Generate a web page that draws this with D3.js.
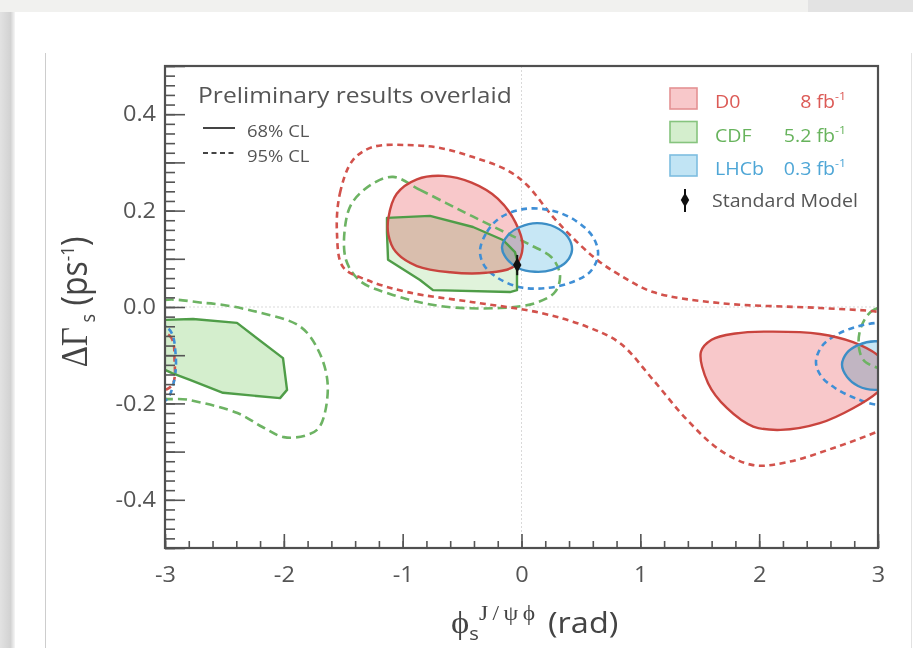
<!DOCTYPE html>
<html>
<head>
<meta charset="utf-8">
<script src="https://cdn.jsdelivr.net/npm/d3@7"></script>
<style>
  html, body { margin: 0; padding: 0; background: #fff; }
  svg { display: block; font-family: "Open Sans", "Noto Sans", sans-serif; }
  .fill { mix-blend-mode: multiply; }
</style>
</head>
<body>
<svg id="chart" width="913" height="648"></svg>
<script>
// ---------------- data ----------------
const phiDomain = [-3, 3];          // φs (rad)
const dGammaDomain = [-0.5, 0.5];   // ΔΓs (ps^-1)
const xTickValues = [-3, -2, -1, 0, 1, 2, 3];
const xTickLabels = ["-3", "-2", "-1", "0", "1", "2", "3"];
const yTickValues = [-0.4, -0.2, 0, 0.2, 0.4];
const yTickLabels = ["-0.4", "-0.2", "0.0", "0.2", "0.4"];

// D0, 8 fb^-1 : [φs, ΔΓs]
const d0_68_a = [[-1.12,0.185],[-1.05,0.235],[-0.88,0.265],[-0.66,0.272],[-0.42,0.258],[-0.2,0.225],
  [-0.05,0.175],[0.01,0.125],[-0.06,0.085],[-0.3,0.071],[-0.6,0.072],[-0.88,0.085],[-1.06,0.115],[-1.12,0.15]];
const d0_68_b = [[1.51,-0.093],[1.6,-0.068],[1.8,-0.055],[2.09,-0.051],[2.51,-0.056],[2.79,-0.073],
  [3.0,-0.1],[3.14,-0.135],[3.0,-0.176],[2.79,-0.21],[2.51,-0.241],[2.18,-0.255],[1.95,-0.248],[1.73,-0.21],[1.57,-0.158]];
const d0_95 = [[-1.553,0.154],[-1.527,0.237],[-1.418,0.305],[-1.25,0.332],[-0.963,0.336],[-0.686,0.33],
  [-0.408,0.311],[-0.122,0.284],[0.046,0.253],[0.265,0.187],[0.492,0.129],[0.661,0.093],[0.829,0.066],
  [1.107,0.031],[1.671,0.008],[2.512,-0.002],[3.0,-0.01],[3.2,-0.02],[3.26,-0.13],[3.2,-0.235],[3.0,-0.258],
  [2.655,-0.29],[2.234,-0.322],[1.948,-0.328],[1.671,-0.297],[1.393,-0.234],[1.107,-0.151],[0.829,-0.075],
  [0.551,-0.041],[0.156,-0.012],[-0.408,0.01],[-0.963,0.031],[-1.3,0.056],[-1.502,0.083]];
const d0_95_wrap = [[-3.3,-0.05],[-2.96,-0.06],[-2.92,-0.11],[-2.95,-0.165],[-3.3,-0.175]];

// CDF, 5.2 fb^-1
const cdf_68_a = [[-1.132,0.185],[-0.77,0.189],[-0.408,0.166],[-0.156,0.139],[-0.055,0.114],[-0.038,0.098],
  [-0.038,0.035],[-0.097,0.031],[-0.745,0.035],[-0.854,0.056],[-1.123,0.098],[-1.132,0.154]];
const cdf_68_b = [[-3.05,-0.027],[-2.764,-0.025],[-2.394,-0.033],[-2.007,-0.106],[-1.973,-0.172],
  [-2.032,-0.189],[-2.512,-0.178],[-2.79,-0.151],[-2.941,-0.137],[-3.05,-0.125]];
const cdf_95_a = [[-1.081,0.27],[-0.854,0.243],[-0.517,0.201],[-0.181,0.16],[0.072,0.129],[0.257,0.102],
  [0.324,0.066],[0.282,0.031],[0.114,0.008],[-0.181,-0.002],[-0.686,0.002],[-1.107,0.027],[-1.359,0.054],
  [-1.477,0.098],[-1.485,0.166],[-1.426,0.216],[-1.258,0.255]];
const cdf_95_b = [[-3.1,0.004],[-2.65,0.008],[-2.23,-0.01],[-1.86,-0.041],[-1.7,-0.095],[-1.63,-0.166],
  [-1.7,-0.249],[-1.81,-0.266],[-2.0,-0.27],[-2.18,-0.249],[-2.39,-0.22],[-2.79,-0.193],[-3.1,-0.18]];
const cdf_95_wrap = [[3.3,0.0],[2.97,-0.005],[2.86,-0.04],[2.84,-0.085],[2.9,-0.115],[3.3,-0.13]];

// LHCb, 0.3 fb^-1
const lhcb_68_a = [[-0.164,0.124],[-0.114,0.149],[-0.013,0.166],[0.131,0.174],[0.282,0.166],[0.391,0.145],
  [0.425,0.118],[0.375,0.093],[0.257,0.077],[0.114,0.073],[-0.029,0.081],[-0.13,0.102]];
const lhcb_68_b = [[2.697,-0.12],[2.739,-0.095],[2.832,-0.079],[2.975,-0.071],[3.14,-0.079],[3.23,-0.12],
  [3.14,-0.162],[2.975,-0.172],[2.832,-0.164],[2.739,-0.145]];
const lhcb_95_a = [[-0.349,0.118],[-0.29,0.156],[-0.181,0.185],[0.013,0.203],[0.24,0.201],[0.45,0.18],
  [0.602,0.145],[0.644,0.108],[0.577,0.073],[0.408,0.05],[0.198,0.039],[-0.013,0.041],[-0.198,0.06],[-0.316,0.087]];
const lhcb_95_b = [[2.478,-0.114],[2.529,-0.081],[2.664,-0.056],[2.849,-0.039],[3.06,-0.033],[3.27,-0.048],
  [3.31,-0.12],[3.23,-0.193],[3.0,-0.203],[2.807,-0.189],[2.638,-0.168],[2.52,-0.143]];
const lhcb_95_wrap = [[-3.3,-0.03],[-2.97,-0.045],[-2.91,-0.1],[-2.93,-0.16],[-3.0,-0.195],[-3.3,-0.2]];

// Standard Model prediction
const smPhi = -0.036, smDGamma = 0.087, smErr = 0.021;

// legend
const expNames = ["D0", "CDF", "LHCb"];
const expLumi = ["8", "5.2", "0.3"];

// ---------------- styling ----------------
const COL = {
  D0:   {line: "#c9443e", dash: "#d2524c", fill: "#f8c8ca", text: "#dc5a56", box: "#e49293"},
  CDF:  {line: "#4f9d48", dash: "#6db363", fill: "#d4eecd", text: "#67b35c", box: "#86c47e"},
  LHCb: {line: "#3c8ec6", dash: "#3f8fd6", fill: "#c1e4f4", text: "#4ea6d6", box: "#7dbde0"}
};
const SX = 1.12;   // horizontal text stretch

const W = 913, H = 648;
const frame = {left: 165, right: 878, top: 66, bottom: 548};
const svg = d3.select("#chart");
const defs = svg.append("defs");

// ---------------- page backdrop ----------------
svg.append("rect").attr("width", W).attr("height", H).attr("fill", "#fff");
svg.append("rect").attr("x", 0).attr("y", 0).attr("width", W).attr("height", 12).attr("fill", "#f1f1ef");
svg.append("rect").attr("x", 808).attr("y", 0).attr("width", 105).attr("height", 12).attr("fill", "#e3e3e3");
const shade = defs.append("linearGradient").attr("id", "edgeShade");
shade.append("stop").attr("offset", "0%").attr("stop-color", "#e2e2e2");
shade.append("stop").attr("offset", "70%").attr("stop-color", "#d2d2d2");
shade.append("stop").attr("offset", "100%").attr("stop-color", "#f6f6f6");
svg.append("rect").attr("x", 0).attr("y", 12).attr("width", 15).attr("height", H - 12).attr("fill", "url(#edgeShade)");
svg.append("line").attr("x1", 45.5).attr("x2", 45.5).attr("y1", 53).attr("y2", H).attr("stroke", "#cdcdcd");
svg.append("line").attr("x1", 911.5).attr("x2", 911.5).attr("y1", 53).attr("y2", H).attr("stroke", "#e2e2e2");

// ---------------- scales ----------------
const x = d3.scaleLinear().domain(phiDomain).range([frame.left, frame.right]);
const y = d3.scaleLinear().domain(dGammaDomain).range([frame.bottom, frame.top]);

defs.append("clipPath").attr("id", "plotClip").append("rect")
  .attr("x", frame.left).attr("y", frame.top)
  .attr("width", frame.right - frame.left).attr("height", frame.bottom - frame.top);

// zero reference lines
const grid = svg.append("g").attr("stroke", "#d9d9d9").attr("stroke-dasharray", "2,2");
grid.append("line").attr("x1", x(0)).attr("x2", x(0)).attr("y1", frame.top).attr("y2", frame.bottom);
grid.append("line").attr("x1", frame.left).attr("x2", frame.right).attr("y1", y(0)).attr("y2", y(0));

// ---------------- contours ----------------
const smooth = d3.curveCatmullRomClosed.alpha(0.5);
const poly = d3.curveLinearClosed;
const path = curve => d3.line().x(d => x(d[0])).y(d => y(d[1])).curve(curve);

const plot = svg.append("g").attr("clip-path", "url(#plotClip)");

const fills = [
  {pts: d0_68_a, c: COL.D0, curve: smooth, op: 1},
  {pts: d0_68_b, c: COL.D0, curve: smooth, op: 1},
  {pts: cdf_68_a, c: COL.CDF, curve: poly, op: 0.72},
  {pts: cdf_68_b, c: COL.CDF, curve: poly, op: 1},
  {pts: lhcb_68_a, c: COL.LHCb, curve: smooth, op: 0.9},
  {pts: lhcb_68_b, c: COL.LHCb, curve: smooth, op: 0.9}
];
plot.append("g").selectAll("path").data(fills).join("path")
  .attr("class", "fill")
  .attr("d", d => path(d.curve)(d.pts))
  .attr("fill", d => d.c.fill)
  .attr("fill-opacity", d => d.op);

const dashed = [
  {pts: cdf_95_a, c: COL.CDF, dash: "9,5", curve: smooth},
  {pts: cdf_95_b, c: COL.CDF, dash: "9,5", curve: smooth},
  {pts: cdf_95_wrap, c: COL.CDF, dash: "9,5", curve: smooth},
  {pts: d0_95, c: COL.D0, dash: "6,4.5", curve: smooth},
  {pts: d0_95_wrap, c: COL.D0, dash: "6,4.5", curve: smooth},
  {pts: lhcb_95_a, c: COL.LHCb, dash: "6,4.5", curve: smooth},
  {pts: lhcb_95_b, c: COL.LHCb, dash: "6,4.5", curve: smooth},
  {pts: lhcb_95_wrap, c: COL.LHCb, dash: "6,4.5", curve: smooth}
];
plot.append("g").selectAll("path").data(dashed).join("path")
  .attr("d", d => path(d.curve)(d.pts))
  .attr("fill", "none")
  .attr("stroke", d => d.c.dash)
  .attr("stroke-width", 2.6)
  .attr("stroke-dasharray", d => d.dash);

const solid = [
  {pts: cdf_68_a, c: COL.CDF, curve: poly},
  {pts: cdf_68_b, c: COL.CDF, curve: poly},
  {pts: d0_68_a, c: COL.D0, curve: smooth},
  {pts: d0_68_b, c: COL.D0, curve: smooth},
  {pts: lhcb_68_a, c: COL.LHCb, curve: smooth},
  {pts: lhcb_68_b, c: COL.LHCb, curve: smooth}
];
plot.append("g").selectAll("path").data(solid).join("path")
  .attr("d", d => path(d.curve)(d.pts))
  .attr("fill", "none")
  .attr("stroke", d => d.c.line)
  .attr("stroke-width", 2.4)
  .attr("stroke-linejoin", "round");

// Standard Model point
const smMark = (g, cx, cy, y0, y1) => {
  g.append("line").attr("x1", cx).attr("x2", cx).attr("y1", y0).attr("y2", y1)
    .attr("stroke", "#111").attr("stroke-width", 2);
  g.append("path").attr("d", d3.symbol(d3.symbolDiamond, 62)())
    .attr("transform", `translate(${cx},${cy})`).attr("fill", "#111");
};
smMark(plot, x(smPhi), y(smDGamma), y(smDGamma - smErr), y(smDGamma + smErr));

// ---------------- axes ----------------
const axisStyle = g => {
  g.attr("font-size", 21).attr("font-family", "Open Sans");
  g.select(".domain").remove();
  g.selectAll(".tick line").attr("stroke", "#555").attr("stroke-width", 1.6);
  g.selectAll("text").attr("fill", "#555").attr("transform", `scale(${SX},1)`);
};

const gx = svg.append("g").attr("transform", `translate(0,${frame.bottom})`);
gx.append("g").call(d3.axisBottom(x).tickValues(d3.range(-15, 16).map(i => i / 5))
  .tickSize(-7).tickFormat("")).call(axisStyle);
gx.append("g").call(d3.axisBottom(x).tickValues(xTickValues).tickSize(-14).tickPadding(19)
  .tickFormat((d, i) => xTickLabels[i])).call(axisStyle);

const gy = svg.append("g").attr("transform", `translate(${frame.left},0)`);
gy.append("g").call(d3.axisLeft(y).tickValues(d3.range(-25, 26).map(i => i / 50))
  .tickSize(-10).tickFormat("")).call(axisStyle);
gy.append("g").call(d3.axisLeft(y).tickValues(d3.range(-5, 6).map(i => i / 10))
  .tickSize(-20).tickPadding(8)
  .tickFormat(d => { const k = yTickValues.findIndex(v => Math.abs(v - d) < 1e-9); return k < 0 ? "" : yTickLabels[k]; }))
  .call(axisStyle);

// frame
svg.append("rect").attr("x", frame.left).attr("y", frame.top)
  .attr("width", frame.right - frame.left).attr("height", frame.bottom - frame.top)
  .attr("fill", "none").attr("stroke", "#505050").attr("stroke-width", 2.2);

// ---------------- axis titles ----------------
const xt = svg.append("text").attr("transform", `translate(451,633) scale(${SX},1)`)
  .attr("fill", "#444").attr("font-size", 29);
xt.append("tspan").attr("font-family", "Liberation Serif").attr("font-size", 31).text("ϕ");
xt.append("tspan").attr("font-size", 18).attr("dy", 7).text("s");
xt.append("tspan").attr("font-family", "Liberation Serif").attr("font-size", 21).attr("dy", -20)
  .attr("letter-spacing", 4).text("J/ψϕ");
xt.append("tspan").attr("dy", 13).text("  (rad)");

const yt = svg.append("text").attr("transform", `translate(87,302) rotate(-90) scale(1,${SX})`)
  .attr("text-anchor", "middle").attr("fill", "#444").attr("font-size", 32);
yt.append("tspan").attr("font-family", "Liberation Serif").attr("font-size", 33).text("ΔΓ");
yt.append("tspan").attr("font-size", 18).attr("dy", 7).text(" s");
yt.append("tspan").attr("dy", -7).text("  (ps");
yt.append("tspan").attr("font-size", 17).attr("dy", -12).text("-1");
yt.append("tspan").attr("dy", 12).text(")");

// ---------------- legends ----------------
const txt = (px, py, s, size, fill, anchor) => svg.append("text")
  .attr("transform", `translate(${px},${py}) scale(${SX},1)`)
  .attr("font-size", size).attr("fill", fill).attr("text-anchor", anchor || "start").text(s);

txt(198, 103, "Preliminary results overlaid", 22, "#555");
svg.append("line").attr("x1", 203).attr("x2", 235).attr("y1", 128).attr("y2", 128)
  .attr("stroke", "#444").attr("stroke-width", 2);
svg.append("line").attr("x1", 203).attr("x2", 235).attr("y1", 153).attr("y2", 153)
  .attr("stroke", "#444").attr("stroke-width", 2).attr("stroke-dasharray", "5,3.5");
txt(247, 137, "68% CL", 16.5, "#555");
txt(247, 162, "95% CL", 16.5, "#555");

const cols = [COL.D0, COL.CDF, COL.LHCb];
expNames.forEach((name, i) => {
  const top = 88 + i * 33.5;
  svg.append("rect").attr("x", 670).attr("y", top).attr("width", 27).attr("height", 21)
    .attr("fill", cols[i].fill).attr("stroke", cols[i].box).attr("stroke-width", 1.6);
  txt(715, top + 20, name, 17.5, cols[i].text);
  const t = svg.append("text").attr("transform", `translate(846,${top + 20}) scale(${SX},1)`)
    .attr("font-size", 17.5).attr("fill", cols[i].text).attr("text-anchor", "end");
  t.append("tspan").text(expLumi[i] + " fb");
  t.append("tspan").attr("font-size", 11).attr("dy", -8).text("-1");
});
smMark(svg, 685, 200, 189, 212);
txt(712, 207, "Standard Model", 17.5, "#555");
</script>
</body>
</html>
